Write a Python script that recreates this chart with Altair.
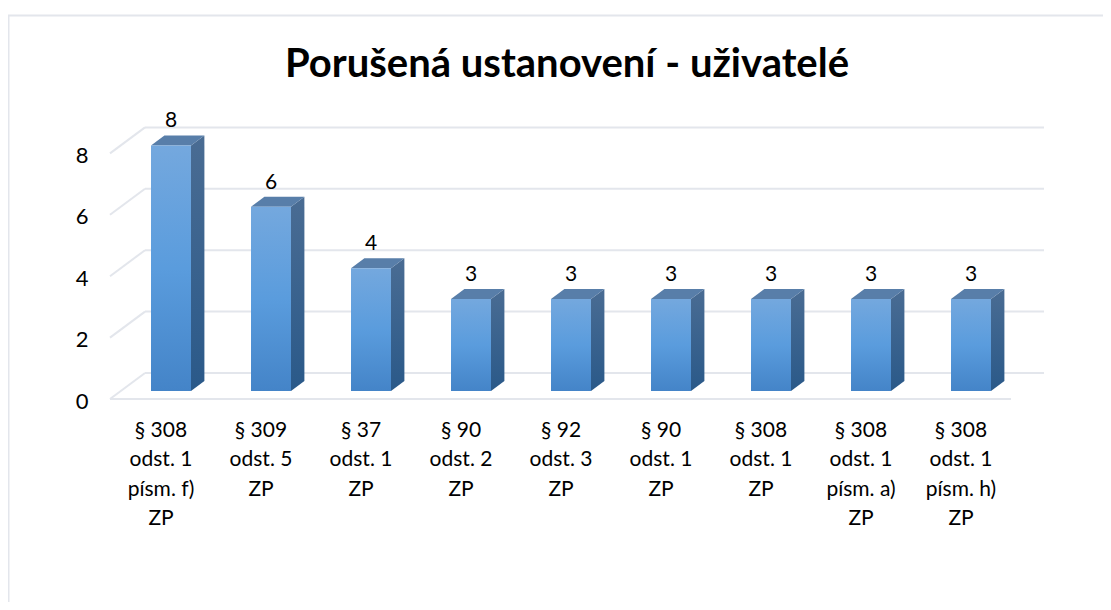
import json
import altair as alt
import pandas as pd

TITLE = "Porušená ustanovení - uživatelé"
labels = [
    "§ 308|odst. 1|písm. f)|ZP",
    "§ 309|odst. 5|ZP",
    "§ 37|odst. 1|ZP",
    "§ 90|odst. 2|ZP",
    "§ 92|odst. 3|ZP",
    "§ 90|odst. 1|ZP",
    "§ 308|odst. 1|ZP",
    "§ 308|odst. 1|písm. a)|ZP",
    "§ 308|odst. 1|písm. h)|ZP",
]
values = [8, 6, 4, 3, 3, 3, 3, 3, 3]
y_ticks = [0, 2, 4, 6, 8]

# 3D projection, in scale units
PX_X, PX_Y = 100.0, 30.7          # pixels per category / per value
BAR_W = 40 / PX_X
BAR_DX = 11 / PX_X                # bar shift from the front plane
BAR_DY = 8 / PX_Y
DEPTH_X = 13.4 / PX_X             # bar depth
DEPTH_Y = 10 / PX_Y
WALL_DX = 35 / PX_X               # back wall shift
WALL_DY = 26 / PX_Y
FONT = "Lato"
GRID = "#e3e6ec"
W, H = 1095, 594

x_scale = alt.Scale(domain=[(8 - 110) / PX_X, (8 + W - 110) / PX_X], nice=False, zero=False)
y_scale = alt.Scale(domain=[(399 - 8 - H) / PX_Y, (399 - 8) / PX_Y], nice=False, zero=False)

n = len(values)
label_expr = f"split({json.dumps(labels, ensure_ascii=False)}[round(datum.value - 0.5)], '|')"
x_axis = alt.Axis(
    orient="bottom", values=[i + 0.5 for i in range(n)], labelExpr=label_expr,
    domain=False, ticks=False, grid=False, title=None, labelFont=FONT, labelFontSize=21,
    labelColor="#000000", labelOverlap=False, labelBound=False, labelFlush=False,
    labelLineHeight=29.5, labelBaseline="top", labelPadding=0, labelOffset=0.5, offset=-(602 - 419))
y_axis = alt.Axis(
    orient="left", values=y_ticks, format="d", domain=False, ticks=False, grid=False,
    title=None, labelFont=FONT, labelFontSize=22, labelColor="#000000",
    labelPadding=0, labelOffset=2, labelOverlap=False, labelBound=False, labelFlush=False, offset=-80)
X = lambda f: alt.X(f, type="quantitative", scale=x_scale, axis=x_axis)
Y = lambda f: alt.Y(f, type="quantitative", scale=y_scale, axis=y_axis)

bars = pd.DataFrame({
    "cat": labels,
    "value": values,
    "left": [i + 0.5 + BAR_DX - BAR_W / 2 for i in range(n)],
    "right": [i + 0.5 + BAR_DX + BAR_W / 2 for i in range(n)],
    "center": [i + 0.5 + BAR_DX for i in range(n)],
})
bars["base"] = BAR_DY
bars["top"] = bars["value"] + BAR_DY
bars["label_y"] = bars["top"] + DEPTH_Y

side = pd.concat([
    pd.DataFrame({"cat": labels, "x": bars["right"], "y": bars["base"], "y2": bars["top"]}),
    pd.DataFrame({"cat": labels, "x": bars["right"] + DEPTH_X, "y": bars["base"] + DEPTH_Y, "y2": bars["top"] + DEPTH_Y}),
])
top = pd.concat([
    pd.DataFrame({"cat": labels, "y": bars["top"], "x": bars["left"], "x2": bars["right"]}),
    pd.DataFrame({"cat": labels, "y": bars["top"] + DEPTH_Y, "x": bars["left"] + DEPTH_X, "x2": bars["right"] + DEPTH_X}),
])
walls = pd.DataFrame({"v": y_ticks})
walls["x0"] = 0.0
walls["x1"] = WALL_DX
walls["xe"] = n + WALL_DX - 0.01
walls["yb"] = walls["v"] + WALL_DY
floor = pd.DataFrame({"x": [0.0], "x2": [n + 0.01], "y": [0.0]})

grad = lambda *stops: alt.LinearGradient(
    gradient="linear", x1=0, x2=0, y1=0, y2=1,
    stops=[alt.GradientStop(offset=o, color=c) for o, c in stops],
)

back = alt.Chart(walls).mark_rule(color=GRID, strokeWidth=2).encode(x=X("x1"), x2="xe", y=Y("yb"))
diag = alt.Chart(walls).mark_rule(color=GRID, strokeWidth=2).encode(x=X("x0"), x2="x1", y=Y("v"), y2="yb")
fl = alt.Chart(floor).mark_rule(color=GRID, strokeWidth=2).encode(x=X("x"), x2="x2", y=Y("y"))

side_m = alt.Chart(side).mark_area(
    color=grad((0, "#4a6c93"), (1, "#2a5989")), orient="vertical"
).encode(x=X("x"), y=Y("y"), y2="y2", detail="cat:N")
top_m = alt.Chart(top).mark_area(color="#587ea9", orient="horizontal").encode(
    y=Y("y"), x=X("x"), x2="x2", detail="cat:N")
front = alt.Chart(bars).mark_rect(
    color=grad((0, "#74a8de"), (0.5, "#5a9cdd"), (1, "#4484c8"))
).encode(x=X("left"), x2="right", y=Y("base"), y2="top")
text = alt.Chart(bars).mark_text(
    font=FONT, fontSize=21, color="#000000", baseline="bottom", dy=-4
).encode(x=X("center"), y=Y("label_y"), text=alt.Text("value:Q", format="d"))

border_top = alt.Chart(floor).mark_rule(color=GRID, strokeWidth=2).encode(
    x=alt.value(0), x2=alt.value(W), y=alt.value(7.5))
border_left = alt.Chart(floor).mark_rule(color=GRID, strokeWidth=2).encode(
    x=alt.value(0.5), y=alt.value(7.5), y2=alt.value(H))

chart = alt.layer(
    border_top, border_left, back, diag, fl, side_m, top_m, front, text
).properties(
    width=W, height=H,
    padding=0,
    autosize=alt.AutoSizeParams(type="none"),
    background="#ffffff",
    title=alt.TitleParams(
        TITLE, anchor="middle", orient="top", offset=-70, dx=11.5, dy=47, font=FONT,
        fontSize=40, fontWeight="bold", color="#000000", baseline="bottom"),
).configure_view(stroke=None)

chart.save("out.html", embed_options={"renderer": "svg", "actions": False})
